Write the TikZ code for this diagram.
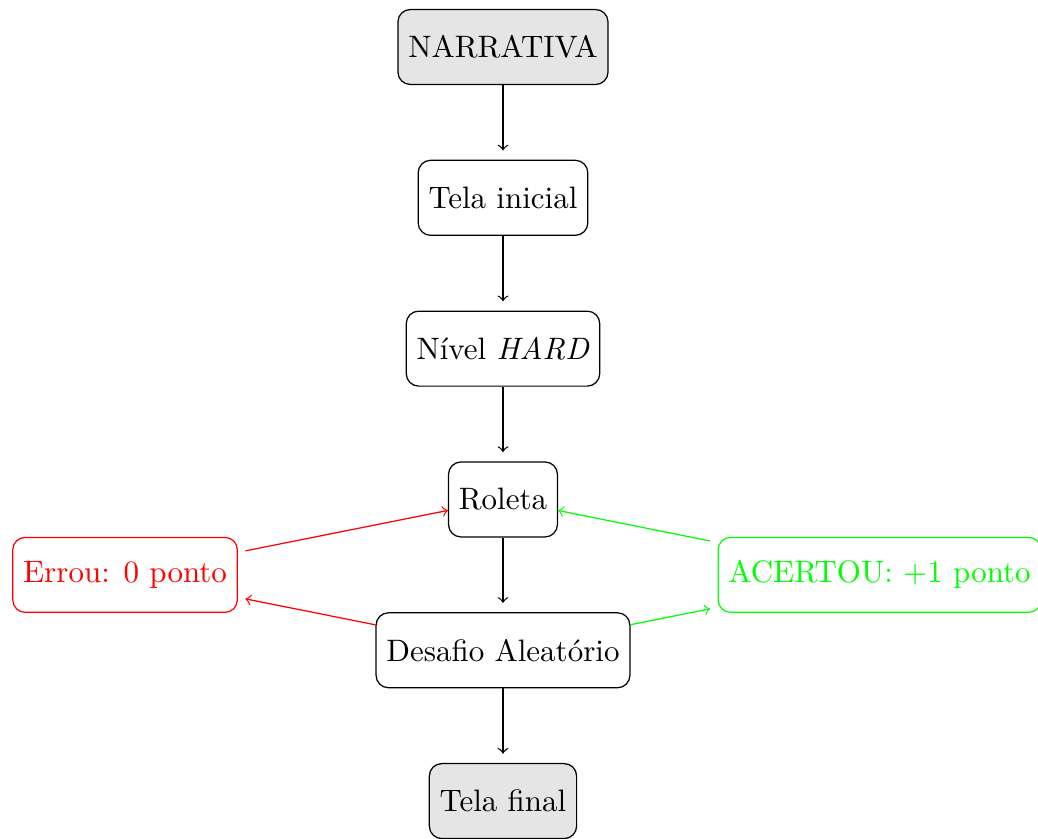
\documentclass[tikz,border=0pt]{standalone}
\tikzset{
	caixa/.style={shape=rectangle, draw, rounded corners, minimum height=0.85cm, align=center},
	caixaCinza/.style={caixa, fill=gray!20},
	caixaErro/.style={caixa, draw=red, text=red, outer sep=2.6pt},
	caixaAcerto/.style={caixa, draw=green, text=green, outer sep=2.6pt},
	seta/.style={->, shorten >=3pt},
}
\begin{document}
\begin{tikzpicture}
	\useasboundingbox (-5.703,-3.849) rectangle (6.066,5.663);
	% Nodes:
	\node[caixaCinza] (narrativa) at (0, 5.13) {NARRATIVA};
	\node[caixa] (telaInicial) at (0, 3.42) {Tela inicial};
	\node[caixa] (nivel) at (0, 1.71) {N\'ivel \textit{HARD}};
	\node[caixa] (roleta) at (0, 0) {Roleta};
	\node[caixa] (desafio) at (0, -1.71) {Desafio Aleat\'orio};
	\node[caixaCinza] (telaFinal) at (0, -3.42) {Tela final};
	\node[caixaErro] (errou) at (-4.285, -0.855) {Errou: 0 ponto};
	\node[caixaAcerto] (acertou) at (4.27, -0.855) {ACERTOU: +1 ponto};
	% Paths and wires:
	\draw[seta] (narrativa) -- (telaInicial);
	\draw[seta] (telaInicial) -- (nivel);
	\draw[seta] (nivel) -- (roleta);
	\draw[seta] (roleta) -- (desafio);
	\draw[seta] (desafio) -- (telaFinal);
	\draw[->, red] (desafio) -- (errou);
	\draw[->, red] (errou) -- (roleta);
	\draw[->, green] (desafio) -- (acertou);
	\draw[->, green] (acertou) -- (roleta);
\end{tikzpicture}
\end{document}
